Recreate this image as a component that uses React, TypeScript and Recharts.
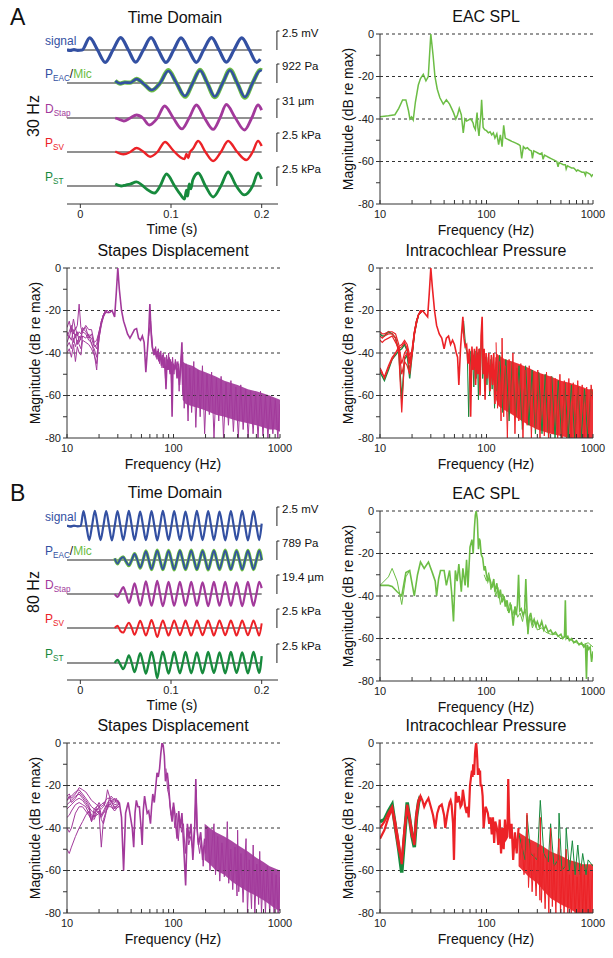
import React from "react";
import { LineChart, ComposedChart, Line, Area, XAxis, YAxis, ReferenceLine } from "recharts";

const FONT = '"Liberation Sans", Arial, sans-serif';
const BLUE = "#3350a2";
const MIC = "#6cbd45";
const PURPLE = "#a2399b";
const RED = "#ec2227";
const DKGREEN = "#178a3d";
const AXIS = "#333";

// ---------- time domain, 30 Hz (A) ----------
const sigA_t = [-0.0147, -0.011, -0.007, -0.003, 0.002, 0.0103, 0.019, 0.0275, 0.036, 0.0445, 0.053, 0.061, 0.0695, 0.078, 0.086, 0.0945, 0.103, 0.111, 0.1195, 0.128, 0.136, 0.1447, 0.153, 0.161, 0.1695, 0.178, 0.1865, 0.1945, 0.1985];
const sigA_v = [0.03, -0.06, 0.05, -0.04, 0, 1.6, 0, -1.62, 0, 1.64, 0, -1.6, 0, 1.62, 0, -1.64, 0, 1.6, 0, -1.62, 0, 1.62, 0, -1.6, 0, 1.6, 0, -1.62, -1.2];
const peacA_t = [0.0385, 0.044, 0.049, 0.055, 0.062, 0.07, 0.0788, 0.088, 0.097, 0.106, 0.1154, 0.124, 0.132, 0.14, 0.1483, 0.157, 0.165, 0.173, 0.1815, 0.19, 0.1985, 0.2];
const peacA_v = [97, -24, 24, 10, 194, -49, -340, 0, 582, 0, -630, 0, 606, 0, -655, 0, 616, 0, -679, 0, 606, 580];
const micA_v = [110, -30, 30, 15, 205, -40, -365, 0, 620, 0, -665, 0, 640, 0, -690, 0, 650, 0, -715, 0, 640, 610];
const dstapA_t = [0.0385, 0.043, 0.048, 0.055, 0.062, 0.069, 0.076, 0.085, 0.093, 0.1025, 0.112, 0.12, 0.128, 0.137, 0.1465, 0.154, 0.161, 0.171, 0.181, 0.189, 0.196, 0.2];
const dstapA_v = [0, -2.4, -4.9, 0, 4.9, 0, -11.4, 0, 19.6, 0, -17.9, 0, 21.2, 0, -18.7, 0, 22, 0, -19.6, 0, 21.2, 13];
const psvA_t = [0.0385, 0.0476, 0.055, 0.062, 0.07, 0.077, 0.085, 0.0934, 0.102, 0.11, 0.115, 0.117, 0.119, 0.121, 0.124, 0.13, 0.138, 0.1465, 0.155, 0.163, 0.173, 0.183, 0.19, 0.196, 0.2];
const psvA_v = [0.07, -0.3, 0, 0.53, 0, -0.62, 0, 1.32, 0.26, -0.66, -0.92, -0.26, -0.79, 0, 0.39, 1.45, 0, -1.18, 0, 1.45, 0, -1.05, 0, 1.45, 0.79];
const pstA_t = [0.0385, 0.045, 0.05, 0.055, 0.062, 0.068, 0.073, 0.082, 0.088, 0.095, 0.104, 0.11, 0.115, 0.117, 0.1185, 0.12, 0.122, 0.124, 0.13, 0.138, 0.1465, 0.155, 0.163, 0.172, 0.181, 0.19, 0.196, 0.2];
const pstA_v = [0.26, 0, 0.13, 0.26, 0.53, 0.13, -0.39, -0.92, 0, 1.58, 0, -1.05, -1.71, -0.53, -1.32, 0.26, -0.39, 0.79, 1.71, 0, -1.45, 0, 1.84, 0, -1.18, 0, 1.71, 0.92];

// ---------- time domain, 80 Hz (B) ----------
const tB = [
  0.0004, 0.0035, 0.0067, 0.0098, 0.0129, 0.016, 0.0192, 0.0223, 0.0254, 0.0285,
  0.0317, 0.0348, 0.0379, 0.041, 0.0442, 0.0473, 0.0504, 0.0535, 0.0567, 0.0598,
  0.0629, 0.066, 0.0692, 0.0723, 0.0754, 0.0785, 0.0817, 0.0848, 0.0879, 0.091,
  0.0942, 0.0973, 0.1004, 0.1035, 0.1067, 0.1098, 0.1129, 0.116, 0.1192, 0.1223,
  0.1254, 0.1285, 0.1317, 0.1348, 0.1379, 0.141, 0.1442, 0.1473, 0.1504, 0.1535,
  0.1567, 0.1598, 0.1629, 0.166, 0.1692, 0.1723, 0.1754, 0.1785, 0.1817, 0.1848,
  0.1879, 0.191, 0.1942, 0.1973, 0.2,
];
const sigB_t = [-0.0147, -0.011, -0.007, -0.003, ...tB];
const sigB_v = [
  0.06, -0.08, 0.05, -0.04,
  0, 1.95, 0, -1.85, 0, 2.0, 0, -1.85,
  0, 1.95, 0, -1.9, 0, 1.95, 0, -1.85,
  0, 2.0, 0, -1.85, 0, 1.9, 0, -1.85,
  0, 1.95, 0, -1.9, 0, 2.0, 0, -1.85,
  0, 1.95, 0, -1.85, 0, 1.9, 0, -1.9,
  0, 2.0, 0, -1.85, 0, 1.95, 0, -1.85,
  0, 1.9, 0, -1.9, 0, 1.95, 0, -1.85,
  0, 2.0, 0, -1.9, 0, 1.95, 0, -1.85,
  0.3,
];
const tBlate = tB.slice(12);
const peacB_v = [
  60, -150, 40, 120, -60, -220,
  0, 250, 0, -320, 0, 360, 0, -380,
  0, 390, 0, -385, 0, 380, 0, -390,
  0, 385, 0, -380, 0, 390, 0, -385,
  0, 380, 0, -390, 0, 385, 0, -380,
  0, 390, 0, -385, 0, 380, 0, -390,
  0, 385, 0, -380, 0, 390, 0,
];
const micB_v = [
  70, -160, 50, 130, -70, -235,
  0, 265, 0, -340, 0, 380, 0, -400,
  0, 410, 0, -405, 0, 400, 0, -410,
  0, 405, 0, -400, 0, 410, 0, -405,
  0, 400, 0, -410, 0, 405, 0, -400,
  0, 410, 0, -405, 0, 400, 0, -410,
  0, 405, 0, -400, 0, 410, 0,
];
const dstapB_v = [
  0, -3, 2, 7, 0, -9,
  0, 11, 0, -12, 0, 13, 0, -12,
  0, 13.5, 0, -12.5, 0, 12.5, 0, -12,
  0, 12.5, 0, -12, 0, 12.5, 0, -12,
  0, 12, 0, -12.5, 0, 12.5, 0, -12,
  0, 12.5, 0, -12, 0, 12, 0, -12.5,
  0, 12.5, 0, -12, 0, 12.5, 6,
];
const psvB_v = [
  0, 0.3, -0.4, -0.6, 0.1, 0.7,
  0, -0.9, 0, 0.95, 0, -1.0, 0, 1.05,
  0, -1.2, 0, 1.0, 0, -1.0, 0, 1.0,
  0, -0.95, 0, 1.0, 0, -1.0, 0, 1.0,
  0, -0.95, 0, 1.0, 0, -1.0, 0, 1.0,
  0, -0.95, 0, 1.0, 0, -1.0, 0, 1.0,
  0, -0.95, 0, 1.0, 0, -1.0, 0.6,
];
const pstB_v = [
  0, 0.4, -0.2, -0.8, 0, 1.0,
  0, -1.2, 0, 1.3, 0, -1.4, 0, 1.45,
  0, -2.0, 0, 1.5, 0, -1.4, 0, 1.45,
  0, -1.35, 0, 1.45, 0, -1.35, 0, 1.4,
  0, -1.35, 0, 1.45, 0, -1.3, 0, 1.4,
  0, -1.35, 0, 1.45, 0, -1.3, 0, 1.4,
  0, -1.35, 0, 1.45, 0, -1.3, 0.9,
];

// ---------- A: EAC SPL ----------
const eacA_f = [
  10, 12, 13.8, 15, 16.3, 17.5, 18.5, 19.1, 19.8, 20.5,
  21.5, 22.9, 24, 25.5, 27, 28.4, 30, 31.5, 32.8, 34.5,
  36.5, 39.3, 42, 45, 47, 49, 51.5, 53.5, 55.5, 58,
  60.5, 62.8, 65, 67.5, 70, 72.5, 75, 76, 78.6, 80,
  81.6, 83, 85, 87, 88.5, 90, 93, 96, 100, 104,
  108, 112, 116, 120, 125, 130, 135, 140, 145, 150,
  157, 165, 173, 182, 191, 200, 207, 214, 222, 232,
  242, 253, 264, 270, 278, 290, 303, 317, 331, 340,
  350, 366, 382, 400, 418, 437, 457, 470, 480, 503,
  526, 550, 560, 575, 601, 629, 658, 688, 700, 720,
  753, 788, 824, 850, 862, 901, 943, 970, 1000,
];
const eacA_db = [
  -39, -38.5, -38, -35, -31, -31, -36, -40, -39, -40.5,
  -32, -24, -21, -19, -22, -20, 0, -10, -20, -26,
  -30, -33, -31, -33, -35, -37, -40, -38, -35, -38,
  -46.5, -40, -41, -40.5, -40, -40.5, -42, -43.5, -45, -41,
  -37, -44, -48, -42, -38, -31, -44, -45, -45.5, -46.5,
  -46, -47.5, -46.5, -49, -47, -52, -47.5, -53, -43, -49,
  -49.5, -50, -50.5, -51, -51.5, -52, -52.5, -58.5, -53, -54,
  -53.5, -54.5, -55, -58.5, -55, -55.5, -56, -56.5, -56, -59,
  -57, -57.5, -58, -58.5, -59, -59.5, -60, -62.5, -60.5, -61,
  -61.5, -61.5, -63.5, -62, -62.5, -63, -63, -64, -64.5, -64,
  -64.5, -65, -65, -66.5, -65, -65.5, -66, -67, -66,
];

// ---------- A: stapes displacement ----------
const stapA_lf = [10, 10.5, 11, 11.5, 12, 12.5, 13, 13.5, 14, 15, 16, 17, 18, 19, 20, 21, 22, 23, 24, 25];
const stapA_l1 = [-28, -25, -30, -24, -29, -27, -17, -28, -30, -27, -29, -29, -35, -34, -30, -25, -22, -20, -20, -21];
const stapA_l2 = [-32, -30, -27, -31, -28, -32, -30, -31, -28, -30, -32, -33, -37, -36, -30, -26, -22, -21, -20, -21];
const stapA_l3 = [-35, -32, -34, -29, -33, -30, -35, -32, -30, -31, -34, -35, -40, -48, -32, -26, -23, -21, -21, -21];
const stapA_l4 = [-37, -35, -38, -33, -37, -34, -36, -38, -32, -33, -31, -36, -38, -42, -33, -27, -23, -21, -20, -21];
const stapA_l5 = [-40, -38, -42, -36, -44, -37, -40, -41, -34, -35, -36, -38, -41, -45, -33, -26, -22, -20, -21, -21];
const stapA_l6 = [-30, -33, -28, -35, -31, -36, -32, -34, -29, -28, -33, -31, -36, -38, -31, -25, -22, -20, -21, -21];
const stapA_f = [
  25, 26.5, 28, 29, 30, 31, 32.5, 34, 35.5, 37,
  39, 41, 43, 45, 47, 49, 51, 53, 55, 57,
  58.5, 60, 61.5, 63, 65, 67, 69, 71, 73, 75,
  77, 79, 81, 83, 85, 87, 89, 91, 93, 95,
  97, 99, 102, 105, 108, 111, 114, 117, 120, 122,
];
const stapA_db = [
  -21, -20, -23, -12, 0, -10, -20, -25, -28, -31,
  -33, -31, -29, -28.5, -33, -34, -32, -35, -49, -38,
  -30, -17, -30, -37, -40, -38, -42, -39, -44, -40,
  -46, -41, -47, -42, -57, -43, -48, -42, -50, -44,
  -70, -45, -48, -44, -52, -45, -55, -46, -35, -55,
];
const stapA2_f = [58.5, 61, 64, 66, 68, 70, 72, 74, 76, 78, 80, 82, 84, 86, 88, 90, 92, 94, 96, 98, 101, 104, 107, 110, 113, 116, 119, 122];
const stapA2_db = [-32, -25, -38, -41, -37, -43, -38, -45, -39, -47, -40, -44, -52, -41, -46, -40, -49, -43, -56, -42, -50, -43, -47, -44, -58, -45, -40, -60];
const stapA_bf = [122, 130, 150, 175, 200, 250, 300, 400, 500, 600, 700, 800, 900, 1000];
const stapA_hi = [-44, -45, -46, -48, -49, -51, -53, -55, -57, -58, -59, -60, -61, -62];
const stapA_lo = [-62, -64, -65, -66, -67, -69, -70, -72, -73, -74, -75, -76, -76, -77];
const stapA_hf = [
  122, 126, 131, 137, 142, 148, 155, 162, 170, 178,
  187, 196, 206, 217, 228, 240, 253, 266, 280, 295,
  311, 328, 346, 365, 385, 406, 428, 451, 476, 502,
  530, 559, 590, 622, 656, 692, 730, 770, 812, 857,
  904, 954, 1000,
];
const stapA_hdb = [
  -40, -66, -45, -72, -47, -68, -44, -75, -48, -70,
  -46, -78, -50, -69, -49, -80, -52, -72, -51, -80,
  -54, -74, -53, -77, -56, -80, -55, -76, -57, -80,
  -58, -78, -59, -80, -58, -79, -60, -80, -61, -78,
  -62, -80, -64,
];

// ---------- A: intracochlear pressure ----------
const intraA_lf = [10, 10.5, 11, 12, 13, 14, 15, 16, 17, 18, 19, 20, 21, 22, 23, 24, 25];
const intraA_r1 = [-30, -31, -31, -30, -30, -31, -36, -45, -40, -38, -45, -38, -30, -25, -22, -21, -20];
const intraA_r2 = [-32, -33, -32, -31, -31, -33, -40, -68, -42, -40, -48, -40, -31, -26, -22, -21, -20];
const intraA_r3 = [-34, -35, -34, -33, -32, -35, -38, -50, -44, -46, -50, -41, -32, -26, -22, -20, -20];
const intraA_r4 = [-48, -50, -51, -46, -42, -40, -38, -37, -35, -38, -43, -40, -31, -25, -22, -20, -20];
const intraA_r5 = [-47, -49, -52, -47, -43, -40, -37, -36, -34, -36, -41, -39, -30, -25, -22, -21, -20];
const intraA_g1 = [-31, -32, -32, -30, -31, -33, -39, -62, -43, -41, -52, -41, -31, -26, -22, -21, -20];
const intraA_g2 = [-49, -51, -53, -48, -43, -41, -39, -38, -36, -39, -44, -41, -31, -25, -22, -21, -20];
const intraA_f = [
  25, 26.5, 28, 29, 30, 31, 32.5, 34, 36, 38,
  40, 42, 44, 46, 48, 50, 52, 53.5, 55, 57,
  58.5, 60, 61.5, 63, 65, 67, 69, 71, 73, 75,
  77, 79, 81, 83, 85, 87, 89, 91, 93, 95,
  97, 99, 102, 105, 108, 111, 114, 117, 120, 123,
];
const intraA_db = [
  -20, -21.5, -23, -12, 0, -9, -20, -27, -31, -33,
  -38, -33, -32, -36, -34, -36, -40, -42, -55, -38,
  -30, -23, -33, -37, -36, -45, -38, -70, -37, -48,
  -38, -55, -37, -50, -38, -60, -32, -23, -50, -38,
  -62, -40, -52, -40, -58, -41, -55, -40, -64, -42,
];
const intraA_gf = [58.5, 61, 64, 66, 68, 70, 72, 74, 76, 78, 80, 82, 84, 86, 88, 90, 92, 94, 96, 98, 101, 104, 107, 110, 113, 116, 119, 123];
const intraA_gdb = [-31, -25, -38, -40, -70, -39, -50, -40, -56, -39, -52, -40, -62, -38, -48, -26, -52, -40, -58, -42, -55, -42, -60, -43, -57, -42, -66, -44];
const intraA_bf = [123, 130, 150, 175, 200, 250, 300, 400, 500, 600, 700, 800, 900, 1000];
const intraA_hi = [-40, -41, -43, -44, -45, -47, -49, -51, -53, -54, -55, -56, -57, -57];
const intraA_lo = [-62, -65, -67, -69, -71, -74, -76, -78, -79, -80, -80, -80, -80, -80];
const intraA_ghf = [
  125, 133, 142, 152, 163, 175, 188, 202, 217, 233,
  250, 268, 288, 309, 332, 356, 382, 410, 440, 472,
  507, 544, 584, 627, 673, 722, 775, 832, 893, 958,
  1000,
];
const intraA_ghdb = [
  -58, -41, -68, -43, -72, -44, -70, -46, -76, -46,
  -74, -48, -78, -49, -78, -50, -80, -51, -80, -53,
  -80, -54, -80, -55, -80, -56, -80, -57, -80, -57,
  -60,
];
const intraA_rhf = [
  123, 127, 132, 137, 140, 145, 151, 157, 163, 170,
  177, 185, 193, 201, 210, 220, 230, 241, 252, 264,
  276, 289, 303, 318, 333, 349, 366, 384, 403, 423,
  444, 466, 489, 513, 538, 565, 593, 622, 653, 685,
  719, 755, 792, 831, 872, 915, 960, 1000,
];
const intraA_rhdb = [
  -35, -66, -44, -72, -33, -70, -46, -80, -43, -68,
  -40, -78, -47, -72, -45, -80, -48, -74, -46, -80,
  -49, -76, -48, -80, -50, -79, -49, -80, -51, -78,
  -52, -80, -50, -80, -53, -80, -52, -80, -54, -80,
  -53, -80, -55, -80, -56, -80, -55, -62,
];

// ---------- B: EAC SPL ----------
const eacB_f = [
  10, 12, 13, 14.5, 16, 17.5, 19, 21, 22.5, 24,
  26, 28.5, 31, 33, 34, 35.5, 37, 40, 42, 45,
  47, 49, 51, 53, 55, 58, 60, 63, 65, 67,
  70, 73, 75, 77, 78.5, 80, 82, 84, 85.5, 87,
  89, 90, 92, 95, 97, 100, 103, 106, 110, 113,
  117, 120, 125, 130, 135, 140, 146, 150, 156, 162,
  170, 178, 185, 190, 195, 200, 205, 212, 220, 228,
  234, 240, 245, 252, 260, 270, 280, 290, 300, 315,
  330, 345, 360, 380, 400, 420, 445, 470, 500, 520,
  540, 550, 560, 580, 600, 630, 660, 700, 740, 780,
  820, 850, 868, 885, 910, 940, 970, 1000,
];
const eacB_db = [
  -35, -35, -35.5, -38, -40, -29, -28, -40, -30, -24,
  -27, -24, -29, -33, -40, -32, -28, -28, -35, -28,
  -38, -52, -28, -33, -25, -38, -27, -35, -23, -36,
  -17, -13.5, -20, -8, -2, 0, -4, -18, -13, -14,
  -20, -21, -22, -28, -26, -30, -33, -31, -34, -36,
  -32, -38, -34, -41, -37, -43, -40, -45, -42, -48,
  -44, -54, -45, -49, -44, -30, -47, -46, -49, -47,
  -32, -47, -58, -50, -48, -53, -51, -54, -52, -55,
  -52, -56, -54, -57, -56, -58, -57, -59, -58, -60,
  -59, -42, -60, -59, -61, -60, -62, -61, -63, -62,
  -64, -63, -79, -63, -65, -64, -71, -66,
];
const eacB_altf = [10, 12, 13, 14.5, 16, 17.5, 19];
const eacB_altdb = [-35, -31, -27, -33, -44, -31, -28];
const eacB2_f = [
  95, 100, 105, 110, 116, 122, 128, 135, 142, 150,
  158, 167, 176, 186, 196, 207, 218, 230, 243, 256,
  270, 285, 300, 330, 360, 400, 450, 500, 560, 630,
  700, 800, 900, 1000,
];
const eacB2_db = [
  -30, -33, -29, -37, -33, -40, -36, -44, -39, -42,
  -47, -43, -49, -45, -50, -48, -52, -46, -55, -50,
  -55, -52, -56, -55, -57, -58, -58, -60, -59, -61,
  -62, -63, -62, -64,
];

// ---------- B: stapes displacement ----------
const stapB_lf = [10, 10.5, 11, 12, 13, 14, 15, 16, 17, 18, 19, 20, 21, 22, 23, 24, 25, 26, 27, 28, 29, 30, 31];
const stapB_l1 = [-25, -24, -26, -24, -21, -22, -23, -25, -27, -28, -29, -30, -31, -30, -28, -22, -25, -28, -27, -26, -28, -27, -28];
const stapB_l2 = [-27, -26, -25, -23, -22, -24, -26, -28, -30, -31, -32, -30, -29, -28, -30, -30, -26, -25, -26, -27, -26, -28, -28];
const stapB_l3 = [-29, -28, -27, -25, -24, -26, -28, -30, -32, -33, -30, -29, -34, -33, -31, -28, -27, -27, -28, -29, -29, -28, -29];
const stapB_l4 = [-31, -30, -29, -27, -26, -27, -29, -31, -34, -35, -31, -31, -36, -38, -34, -30, -28, -27, -29, -30, -30, -29, -29];
const stapB_l5 = [-35, -34, -32, -29, -28, -29, -30, -33, -37, -33, -32, -33, -49, -36, -33, -30, -29, -28, -29, -31, -30, -29, -29];
const stapB_l6 = [-40, -42, -40, -33, -30, -30, -32, -34, -36, -34, -34, -33, -35, -33, -32, -31, -29, -29, -31, -32, -31, -30, -30];
const stapB_l7 = [-50, -52, -49, -44, -40, -37, -34, -32, -35, -36, -33, -32, -34, -32, -30, -29, -30, -30, -31, -30, -31, -30, -30];
const stapB_l8 = [-27, -25, -28, -26, -23, -25, -27, -29, -37, -31, -30, -28, -30, -29, -27, -26, -26, -26, -27, -28, -27, -27, -28];
const stapB_f = [
  31, 32.5, 34, 35.5, 37.5, 39.5, 41, 42.3, 43.5, 44.8,
  46.3, 47.8, 49.3, 50.8, 52, 53.5, 55, 56.6, 58.5, 60.8,
  62.3, 63.9, 66, 68.3, 70, 72, 74, 76, 78, 80,
  82, 84, 86, 87.5, 90, 93, 97, 100, 104, 108,
  112, 116, 120, 125, 130, 135, 140, 146, 152, 158,
  162, 166, 172, 180, 188, 196,
];
const stapB_db = [
  -28, -35, -60, -33, -28, -35, -40, -49, -33, -27,
  -30, -30, -38, -48, -32, -25, -29, -33, -32, -38,
  -30, -24, -28, -20, -14, -16, -12, -5, 0, -1,
  -6, -18, -15, -14, -20, -30, -37, -28, -35, -45,
  -32, -40, -33, -50, -67, -38, -45, -38, -55, -40,
  -17, -40, -48, -42, -55, -45,
];
const stapB2_f = [85, 88, 91, 95, 99, 103, 107, 111, 115, 119, 124, 129, 134, 139, 145, 151, 157, 163, 169, 176, 183, 190, 196];
const stapB2_db = [-12, -22, -25, -34, -30, -40, -33, -46, -36, -42, -38, -52, -40, -48, -44, -50, -41, -22, -46, -52, -45, -58, -48];
const stapB_bf = [196, 220, 250, 300, 350, 400, 500, 600, 700, 800, 900, 1000];
const stapB_hi = [-38, -40, -42, -44, -46, -48, -51, -54, -56, -58, -59, -60];
const stapB_lo = [-55, -57, -60, -62, -65, -67, -70, -72, -74, -76, -78, -79];
const stapB_hf = [
  200, 210, 220, 232, 240, 248, 260, 272, 285, 300,
  315, 320, 330, 345, 360, 378, 395, 400, 410, 430,
  450, 470, 480, 495, 515, 540, 560, 580, 605, 630,
  645, 670, 700, 730, 760, 800, 840, 880, 920, 960,
  1000,
];
const stapB_hdb = [
  -52, -40, -60, -45, -38, -62, -44, -65, -47, -63,
  -48, -37, -66, -50, -69, -49, -72, -41, -70, -52,
  -75, -53, -45, -80, -55, -78, -48, -80, -57, -76,
  -51, -80, -60, -80, -58, -80, -61, -80, -62, -80,
  -63,
];

// ---------- B: intracochlear pressure ----------
const intraB_f = [
  10, 11, 12, 13, 14, 15, 16, 17, 18, 19,
  20, 21, 22, 23, 24, 25, 26, 27, 28.5, 30,
  31.5, 33, 34.5, 36, 38, 40, 41, 43, 45, 46,
  47, 48.5, 49.5, 50.5, 51.5, 53, 55, 57, 58.5, 60,
  61.5, 63, 65, 66.5, 68, 70, 72, 73, 74, 75,
  76.5, 78, 79, 80, 81, 82, 83, 84.5, 86, 87,
  88, 89, 90, 92, 94, 96, 98, 100, 103, 106,
  109, 112, 115, 118, 121, 125, 129, 133, 137, 141,
  145, 149, 153, 157, 160, 163, 167, 172, 178, 185,
  192, 200,
];
const intraB_db = [
  -40, -37, -33, -30, -38, -47, -57, -42, -29, -35,
  -42, -48, -35, -28, -25, -27, -30, -28, -26, -30,
  -34, -40, -33, -30, -29, -34, -40, -33, -28, -27,
  -29, -38, -55, -35, -23, -28, -25, -30, -29, -22,
  -26, -30, -33, -30, -35, -20, -15, -13, -16, -10,
  -15, -5, -2, 0, -3, -8, -15, -12, -15, -13,
  -20, -20, -20, -25, -40, -35, -30, -31, -33, -38,
  -35, -43, -35, -47, -37, -40, -48, -36, -52, -40,
  -50, -36, -45, -44, -17, -35, -45, -38, -55, -42,
  -52, -40,
];
const intraB_lf = [10, 11, 12, 13, 14, 15, 16, 17, 18, 19, 20, 21, 22, 23, 24];
const intraB_g1 = [-37, -36, -32, -29, -40, -50, -61, -44, -28, -36, -44, -49, -35, -28, -25];
const intraB_r2 = [-45, -41, -35, -31, -41, -50, -55, -40, -30, -37, -44, -46, -33, -27, -25];
const intraB_bf = [200, 250, 300, 350, 400, 500, 600, 700, 800, 900, 1000];
const intraB_hi = [-42, -45, -47, -49, -51, -53, -55, -56, -57, -57, -57];
const intraB_lo = [-58, -63, -66, -70, -73, -76, -78, -80, -80, -80, -80];
const intraB_rhf = [
  205, 215, 225, 235, 240, 248, 258, 268, 280, 292,
  305, 318, 320, 328, 340, 355, 370, 385, 400, 415,
  430, 448, 465, 480, 495, 515, 535, 555, 560, 580,
  600, 625, 650, 680, 710, 740, 770, 800, 830, 860,
  900, 940, 980, 1000,
];
const intraB_rhdb = [
  -55, -45, -62, -50, -33, -68, -47, -70, -52, -72,
  -49, -74, -35, -75, -52, -78, -54, -80, -40, -77,
  -57, -80, -55, -45, -80, -58, -80, -60, -50, -80,
  -62, -80, -60, -80, -63, -80, -58, -80, -62, -80,
  -60, -80, -64, -60,
];
const intraB_ghf = [200, 230, 240, 260, 300, 320, 345, 380, 400, 430, 470, 480, 510, 550, 560, 600, 640, 680, 720, 760, 800, 860, 900, 1000];
const intraB_ghdb = [-42, -55, -34, -52, -55, -27, -52, -56, -38, -58, -55, -33, -60, -58, -40, -60, -46, -62, -48, -62, -52, -62, -55, -58];

// axis ticks
const F_TICKS = [10, 20, 30, 40, 50, 60, 70, 80, 90, 100, 200, 300, 400, 500, 600, 700, 800, 900, 1000];
const F_LABELS = [10, 100, 1000];
const DB_TICKS = [-80, -70, -60, -50, -40, -30, -20, -10, 0];
const DB_GRID = [-60, -40, -20, 0];
const T_TICKS = [0, 0.1, 0.2];
const T_DOMAIN: [number, number] = [-0.0147, 0.218];

const zip = (xs: number[], ys: number[]) => xs.map((x, i) => ({ x, y: ys[i] }));
const zipBand = (xs: number[], lo: number[], hi: number[]) => xs.map((x, i) => ({ x, y: [lo[i], hi[i]] }));

const tickStyle = { fontSize: 11, fill: "#222", fontFamily: FONT };

function Txt({ x, y, size = 14, color = "#111", anchor = "middle", rotate = 0, children }: any) {
  const tx = anchor === "middle" ? "-50%" : anchor === "end" ? "-100%" : "0%";
  return (
    <div
      style={{
        position: "absolute",
        left: x,
        top: y,
        transform: `translate(${tx}, -50%) rotate(${rotate}deg)`,
        fontSize: size,
        color,
        lineHeight: 1,
        whiteSpace: "nowrap",
        fontFamily: FONT,
      }}
    >
      {children}
    </div>
  );
}

const Sub = ({ children }: any) => (
  <span style={{ fontSize: "0.68em", position: "relative", top: "0.38em" }}>{children}</span>
);

const ln = (k: string, xs: number[], ys: number[], color: string, w = 1.2) => (
  <Line
    key={k}
    data={zip(xs, ys)}
    dataKey="y"
    type="linear"
    stroke={color}
    strokeWidth={w}
    dot={false}
    activeDot={false}
    isAnimationActive={false}
  />
);

const band = (k: string, xs: number[], lo: number[], hi: number[], color: string) => (
  <Area
    key={k}
    data={zipBand(xs, lo, hi)}
    dataKey="y"
    type="linear"
    stroke="none"
    fill={color}
    fillOpacity={0.92}
    dot={false}
    activeDot={false}
    isAnimationActive={false}
  />
);

// spectrum panel, plot area 213 x 170 at (left, top)
function Spec({ left, top, children }: any) {
  return (
    <div style={{ position: "absolute", left: left - 45, top: top - 6 }}>
      <ComposedChart width={45 + 213 + 16} height={6 + 170 + 22} margin={{ top: 6, right: 16, bottom: 0, left: 0 }}>
        <XAxis
          dataKey="x"
          type="number"
          scale="log"
          domain={[10, 1000]}
          allowDataOverflow
          ticks={F_TICKS}
          interval={0}
          tickFormatter={(v: number) => (F_LABELS.includes(v) ? String(v) : "")}
          height={22}
          tickSize={-4}
          tickMargin={10}
          stroke={AXIS}
          tick={tickStyle}
        />
        <YAxis
          type="number"
          domain={[-80, 0]}
          allowDataOverflow
          ticks={DB_TICKS}
          interval={0}
          tickFormatter={(v: number) => (v % 20 === 0 ? String(v) : "")}
          width={45}
          tickSize={4}
          tickMargin={2}
          stroke={AXIS}
          tick={tickStyle}
        />
        {DB_GRID.map((v) => (
          <ReferenceLine key={v} y={v} stroke="#333" strokeDasharray="3 3" strokeWidth={1} />
        ))}
        {children}
      </ComposedChart>
    </div>
  );
}

type Series = { t: number[]; v: number[]; c: string; w: number };

// one trace of the time-domain stack, zero line at y0
function TraceRow({ y0, scale, series }: { y0: number; scale: number; series: Series[] }) {
  const half = 20;
  const lim = (scale * half) / 19; // scale bar is 19 px tall
  return (
    <div style={{ position: "absolute", left: 67, top: y0 - half }}>
      <LineChart width={211 + 8} height={half * 2} margin={{ top: 0, right: 8, bottom: 0, left: 0 }}>
        <XAxis dataKey="x" type="number" domain={T_DOMAIN} allowDataOverflow hide />
        <YAxis type="number" domain={[-lim, lim]} hide />
        <ReferenceLine
          segment={[{ x: T_DOMAIN[0], y: 0 }, { x: 0.2, y: 0 }]}
          stroke="#6d6d6d"
          strokeWidth={1.5}
          ifOverflow="visible"
        />
        {series.map((s, i) => (
          <Line
            key={i}
            data={zip(s.t, s.v)}
            dataKey="y"
            type="monotone"
            stroke={s.c}
            strokeWidth={s.w}
            dot={false}
            activeDot={false}
            isAnimationActive={false}
          />
        ))}
        <ReferenceLine segment={[{ x: 0.2168, y: 0 }, { x: 0.2168, y: scale }]} stroke="#222" strokeWidth={1} ifOverflow="visible" />
        <ReferenceLine segment={[{ x: 0.2168, y: scale }, { x: 0.2196, y: scale }]} stroke="#222" strokeWidth={1} ifOverflow="visible" />
      </LineChart>
    </div>
  );
}

function TimeAxis({ y }: { y: number }) {
  return (
    <div style={{ position: "absolute", left: 67, top: y - 10 }}>
      <LineChart width={211 + 10} height={10 + 22} margin={{ top: 0, right: 10, bottom: 0, left: 0 }}>
        <XAxis
          dataKey="x"
          type="number"
          domain={T_DOMAIN}
          allowDataOverflow
          ticks={T_TICKS}
          interval={0}
          height={22}
          tickSize={4}
          tickMargin={2}
          stroke={AXIS}
          tick={tickStyle}
        />
        <YAxis type="number" domain={[0, 1]} hide />
        <Line data={zip(T_DOMAIN, [0, 0])} dataKey="y" stroke="none" dot={false} activeDot={false} isAnimationActive={false} />
      </LineChart>
    </div>
  );
}

function TimePanel({ rows, units, axisY, hz, hzY }: any) {
  return (
    <>
      {rows.map((r: any, i: number) => (
        <TraceRow key={i} y0={r.y} scale={r.scale} series={r.series} />
      ))}
      {rows.map((r: any, i: number) => (
        <Txt key={"u" + i} x={282} y={r.y - 16} size={11.5} anchor="start">
          {units[i]}
        </Txt>
      ))}
      <TimeAxis y={axisY} />
      <Txt x={172} y={axisY + 25} size={14}>Time (s)</Txt>
      <Txt x={34} y={hzY} size={16} rotate={-90}>{hz}</Txt>
      <Txt x={45} y={rows[0].y - 9} size={12} color={BLUE} anchor="start">signal</Txt>
      <Txt x={45} y={rows[1].y - 9} size={12} anchor="start">
        <span style={{ color: BLUE }}>P<Sub>EAC</Sub></span>/<span style={{ color: MIC }}>Mic</span>
      </Txt>
      <Txt x={45} y={rows[2].y - 9} size={12} color={PURPLE} anchor="start">D<Sub>Stap</Sub></Txt>
      <Txt x={45} y={rows[3].y - 9} size={12} color={RED} anchor="start">P<Sub>SV</Sub></Txt>
      <Txt x={45} y={rows[4].y - 9} size={12} color={DKGREEN} anchor="start">P<Sub>ST</Sub></Txt>
    </>
  );
}

function SpecLabels({ left, top, title }: any) {
  const cx = left + 106;
  return (
    <>
      <Txt x={cx} y={top - 17} size={16}>{title}</Txt>
      <Txt x={cx} y={top + 196} size={14}>Frequency (Hz)</Txt>
      <Txt x={left - 32} y={top + 85} size={14} rotate={-90}>Magnitude (dB re max)</Txt>
    </>
  );
}

export default function App() {
  const rowsA = [
    { y: 50, scale: 2.5, series: [{ t: sigA_t, v: sigA_v, c: BLUE, w: 3.2 }] },
    { y: 83, scale: 922, series: [{ t: peacA_t, v: micA_v, c: MIC, w: 4.2 }, { t: peacA_t, v: peacA_v, c: BLUE, w: 2.6 }] },
    { y: 118, scale: 31, series: [{ t: dstapA_t, v: dstapA_v, c: PURPLE, w: 2.8 }] },
    { y: 152, scale: 2.5, series: [{ t: psvA_t, v: psvA_v, c: RED, w: 2.4 }] },
    { y: 186, scale: 2.5, series: [{ t: pstA_t, v: pstA_v, c: DKGREEN, w: 2.8 }] },
  ];
  const rowsB = [
    { y: 526, scale: 2.5, series: [{ t: sigB_t, v: sigB_v, c: BLUE, w: 2.2 }] },
    { y: 560, scale: 789, series: [{ t: tBlate, v: micB_v, c: MIC, w: 3.2 }, { t: tBlate, v: peacB_v, c: BLUE, w: 1.8 }] },
    { y: 594, scale: 19.4, series: [{ t: tBlate, v: dstapB_v, c: PURPLE, w: 2.2 }] },
    { y: 628, scale: 2.5, series: [{ t: tBlate, v: psvB_v, c: RED, w: 2 }] },
    { y: 663, scale: 2.5, series: [{ t: tBlate, v: pstB_v, c: DKGREEN, w: 2.3 }] },
  ];

  return (
    <div style={{ position: "absolute", left: 0, top: 0, width: 613, height: 958, background: "#fff", fontFamily: FONT, overflow: "hidden" }}>
      <Txt x={10} y={17} size={23} anchor="start">A</Txt>
      <Txt x={10} y={493} size={23} anchor="start">B</Txt>

      {/* ---- A ---- */}
      <Txt x={175} y={18} size={16}>Time Domain</Txt>
      <TimePanel rows={rowsA} units={["2.5 mV", "922 Pa", "31 µm", "2.5 kPa", "2.5 kPa"]} axisY={204} hz="30 Hz" hzY={116} />

      <Spec left={380} top={34}>
        {ln("a", eacA_f, eacA_db, MIC, 1.5)}
      </Spec>
      <SpecLabels left={380} top={34} title="EAC SPL" />

      <Spec left={67} top={268}>
        {band("b", stapA_bf, stapA_lo, stapA_hi, PURPLE)}
        {ln("h", stapA_hf, stapA_hdb, PURPLE, 1)}
        {ln("1", stapA_lf, stapA_l1, PURPLE, 1)}
        {ln("2", stapA_lf, stapA_l2, PURPLE, 1)}
        {ln("3", stapA_lf, stapA_l3, PURPLE, 1)}
        {ln("4", stapA_lf, stapA_l4, PURPLE, 1)}
        {ln("5", stapA_lf, stapA_l5, PURPLE, 1)}
        {ln("6", stapA_lf, stapA_l6, PURPLE, 1)}
        {ln("m2", stapA2_f, stapA2_db, PURPLE, 1)}
        {ln("m", stapA_f, stapA_db, PURPLE, 1.6)}
      </Spec>
      <SpecLabels left={67} top={268} title="Stapes Displacement" />

      <Spec left={380} top={268}>
        {ln("g1", intraA_lf, intraA_g1, DKGREEN, 1.4)}
        {ln("g2", intraA_lf, intraA_g2, DKGREEN, 1.4)}
        {ln("gm", intraA_gf, intraA_gdb, DKGREEN, 1)}
        {ln("gh", intraA_ghf, intraA_ghdb, DKGREEN, 1)}
        {band("b", intraA_bf, intraA_lo, intraA_hi, RED)}
        {ln("rh", intraA_rhf, intraA_rhdb, RED, 1)}
        {ln("r1", intraA_lf, intraA_r1, RED, 1.2)}
        {ln("r2", intraA_lf, intraA_r2, RED, 1.2)}
        {ln("r3", intraA_lf, intraA_r3, RED, 1.2)}
        {ln("r4", intraA_lf, intraA_r4, RED, 1.2)}
        {ln("r5", intraA_lf, intraA_r5, RED, 1.2)}
        {ln("m", intraA_f, intraA_db, RED, 1.6)}
      </Spec>
      <SpecLabels left={380} top={268} title="Intracochlear Pressure" />

      {/* ---- B ---- */}
      <Txt x={175} y={493} size={16}>Time Domain</Txt>
      <TimePanel rows={rowsB} units={["2.5 mV", "789 Pa", "19.4 µm", "2.5 kPa", "2.5 kPa"]} axisY={680} hz="80 Hz" hzY={592} />

      <Spec left={380} top={511}>
        {ln("alt", eacB_altf, eacB_altdb, MIC, 1)}
        {ln("b2", eacB2_f, eacB2_db, MIC, 1)}
        {ln("m", eacB_f, eacB_db, MIC, 1.6)}
      </Spec>
      <SpecLabels left={380} top={511} title="EAC SPL" />

      <Spec left={67} top={743}>
        {band("b", stapB_bf, stapB_lo, stapB_hi, PURPLE)}
        {ln("h", stapB_hf, stapB_hdb, PURPLE, 1)}
        {ln("1", stapB_lf, stapB_l1, PURPLE, 1)}
        {ln("2", stapB_lf, stapB_l2, PURPLE, 1)}
        {ln("3", stapB_lf, stapB_l3, PURPLE, 1)}
        {ln("4", stapB_lf, stapB_l4, PURPLE, 1)}
        {ln("5", stapB_lf, stapB_l5, PURPLE, 1)}
        {ln("6", stapB_lf, stapB_l6, PURPLE, 1)}
        {ln("7", stapB_lf, stapB_l7, PURPLE, 1)}
        {ln("8", stapB_lf, stapB_l8, PURPLE, 1)}
        {ln("m2", stapB2_f, stapB2_db, PURPLE, 1)}
        {ln("m", stapB_f, stapB_db, PURPLE, 1.6)}
      </Spec>
      <SpecLabels left={67} top={743} title="Stapes Displacement" />

      <Spec left={380} top={743}>
        {ln("g1", intraB_lf, intraB_g1, DKGREEN, 3.5)}
        {ln("gh", intraB_ghf, intraB_ghdb, DKGREEN, 1)}
        {band("b", intraB_bf, intraB_lo, intraB_hi, RED)}
        {ln("rh", intraB_rhf, intraB_rhdb, RED, 1)}
        {ln("r2", intraB_lf, intraB_r2, RED, 2.2)}
        {ln("m", intraB_f, intraB_db, RED, 2.2)}
      </Spec>
      <SpecLabels left={380} top={743} title="Intracochlear Pressure" />
    </div>
  );
}
